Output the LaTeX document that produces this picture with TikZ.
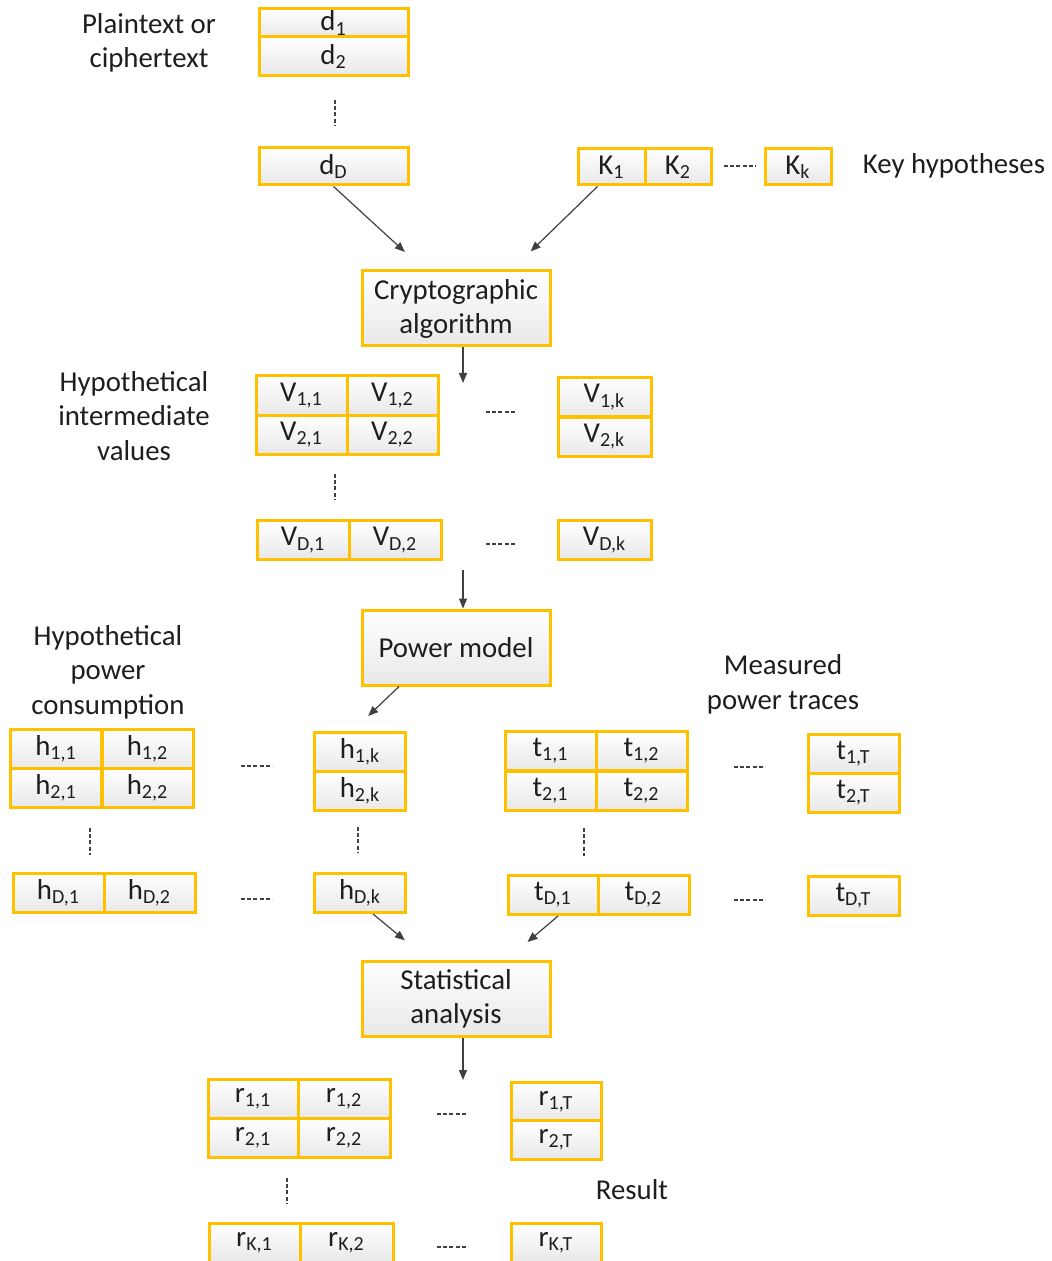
\documentclass[tikz,border=0pt]{standalone}
\usepackage{fontspec}
\setmainfont{Carlito}
\usetikzlibrary{arrows.meta,positioning,calc}
\definecolor{boxline}{RGB}{255,192,0}
\definecolor{ink}{RGB}{30,30,30}
\newcommand{\ix}[1]{\textsubscript{#1}}

\begin{document}
\begin{tikzpicture}[
    x=0.5pt, y=-0.5pt,
    cell/.style={draw=boxline, line width=1.5pt, top color=white, bottom color=black!9, minimum width=45.5pt, minimum height=19.5pt, inner sep=0pt, font=\fontsize{14.4}{17}\selectfont, text=ink},
    datacell/.style={cell, minimum width=74.5pt},
    keycell/.style={cell, minimum width=33pt, minimum height=18pt},
    proc/.style={cell, minimum width=94pt, minimum height=37.5pt, align=center},
    lbl/.style={font=\fontsize{14.4}{17.2}\selectfont, text=ink, align=center},
    conn/.style={-{Triangle[length=5pt,width=4pt]}, line width=0.6pt, draw=black!75},
    gap/.style={line width=0.65pt, draw=black!75, dash pattern=on 2pt off 1.1pt}
]
\useasboundingbox (0,0) rectangle (1051,1261);

% --- Inputs: data and key hypotheses ---
\node[datacell, minimum height=14pt] (d1) at (333.5,23) {d\ix{1}};
\node[datacell] (d2) at (333.5,56.5) {d\ix{2}};
\node[datacell, minimum height=18.5pt] (dD) at (333.5,166.5) {d\ix{D}};
\node[lbl] (plain) at (149,43) {Plaintext or\\ciphertext};

\node[keycell, minimum width=33.5pt] (k1) at (611.5,167) {K\ix{1}};
\node[keycell] (k2) at (678,167) {K\ix{2}};
\node[keycell] (kk) at (798,167) {K\ix{k}};
\node[lbl] (keyh) at (954,166) {Key hypotheses};

% --- Cryptographic algorithm ---
\node[proc] (crypto) at (456,308.5) {Cryptographic\\algorithm};
\coordinate (c1) at (463,383);

% --- Hypothetical intermediate values ---
\node[lbl] (hiv) at (134,416) {Hypothetical\\intermediate\\values};
\node[cell] (v11) at (301.5,395.5) {V\ix{1,1}};
\node[cell] (v12) at (392.5,395.5) {V\ix{1,2}};
\node[cell] (v21) at (301.5,434.5) {V\ix{2,1}};
\node[cell] (v22) at (392.5,434.5) {V\ix{2,2}};
\node[cell, minimum width=46.5pt] (v1k) at (604.5,397) {V\ix{1,k}};
\node[cell, minimum width=46.5pt] (v2k) at (604.5,436.5) {V\ix{2,k}};
\node[cell, minimum width=46pt] (vD1) at (303,540) {V\ix{D,1}};
\node[cell, minimum width=46pt] (vD2) at (395,540) {V\ix{D,2}};
\node[cell, minimum width=46.5pt] (vDk) at (604.5,540) {V\ix{D,k}};
\coordinate (c2) at (463,570);

% --- Power model ---
\node[proc] (power) at (456,647.5) {Power model};

% --- Hypothetical power consumption ---
\node[lbl] (hpc) at (108,672) {Hypothetical\\power\\consumption};
\node[cell] (h11) at (56,749) {h\ix{1,1}};
\node[cell] (h12) at (147.5,749) {h\ix{1,2}};
\node[cell] (h21) at (56,788) {h\ix{2,1}};
\node[cell] (h22) at (147.5,788) {h\ix{2,2}};
\node[cell] (h1k) at (360,751.5) {h\ix{1,k}};
\node[cell] (h2k) at (360,791) {h\ix{2,k}};
\node[cell] (hD1) at (58.5,893) {h\ix{D,1}};
\node[cell] (hD2) at (149.5,893) {h\ix{D,2}};
\node[cell] (hDk) at (360,893) {h\ix{D,k}};

% --- Measured power traces ---
\node[lbl] (mpt) at (783,684.5) {Measured\\power traces};
\node[cell] (t11) at (550.5,751) {t\ix{1,1}};
\node[cell] (t12) at (641.5,751) {t\ix{1,2}};
\node[cell] (t21) at (550.5,790.5) {t\ix{2,1}};
\node[cell] (t22) at (641.5,790.5) {t\ix{2,2}};
\node[cell] (t1T) at (853.5,753.5) {t\ix{1,T}};
\node[cell] (t2T) at (853.5,792.5) {t\ix{2,T}};
\node[cell, minimum width=45pt] (tD1) at (553,895) {t\ix{D,1}};
\node[cell] (tD2) at (643.5,895) {t\ix{D,2}};
\node[cell] (tDT) at (853.5,896) {t\ix{D,T}};

% --- Statistical analysis ---
\node[proc] (stat) at (456,998.5) {Statistical\\analysis};
\coordinate (c3) at (463,1080);

% --- Result ---
\node[lbl] (res) at (632,1190) {Result};
\node[cell, minimum width=45pt] (r11) at (253,1099) {r\ix{1,1}};
\node[cell, minimum width=46pt] (r12) at (344,1099) {r\ix{1,2}};
\node[cell, minimum width=45pt] (r21) at (253,1138) {r\ix{2,1}};
\node[cell, minimum width=46pt] (r22) at (344,1138) {r\ix{2,2}};
\node[cell, minimum width=45pt] (r1T) at (556,1101.5) {r\ix{1,T}};
\node[cell, minimum width=45pt] (r2T) at (556,1140) {r\ix{2,T}};
\node[cell] (rK1) at (254.5,1242.5) {r\ix{K,1}};
\node[cell, minimum width=46.5pt] (rK2) at (346.5,1242.5) {r\ix{K,2}};
\node[cell, minimum width=45pt] (rKT) at (556,1243) {r\ix{K,T}};

% === arrows ===
\draw[conn, shorten >=13pt] (dD.south) -- ([xshift=-16pt]crypto.north);
\draw[conn, shorten >=13pt] ([xshift=-7pt]k1.south) -- ([xshift=28pt]crypto.north);
\draw[conn] ([xshift=3.5pt]crypto.south) -- (c1);
\draw[conn] (c2) -- ([xshift=3.5pt]power.north);
\draw[conn, shorten >=10.5pt] ([xshift=-28.5pt]power.south) -- ([xshift=-3.5pt]h1k.north);
\draw[conn, shorten >=15pt] ([xshift=6.5pt]hDk.south) -- ([xshift=-14pt]stat.north);
\draw[conn, shorten >=13.5pt] ([xshift=2.5pt]tD1.south) -- ([xshift=25.5pt]stat.north);
\draw[conn] ([xshift=3.5pt]stat.south) -- (c3);

% === ellipsis marks ===
\draw[gap] (724,166) -- (756,166);
\draw[gap] (486,412) -- (516,412);
\draw[gap] (486,544) -- (516,544);
\draw[gap] (241,766) -- (272,766);
\draw[gap] (734,767) -- (765,767);
\draw[gap] (241,899) -- (272,899);
\draw[gap] (734,900) -- (765,900);
\draw[gap] (437,1114) -- (468,1114);
\draw[gap] (437,1247) -- (468,1247);
\draw[gap] (335,100) -- (335,126);
\draw[gap] (335,474) -- (335,500);
\draw[gap] (90,828) -- (90,855);
\draw[gap] (358,827) -- (358,852);
\draw[gap] (584,828) -- (584,856);
\draw[gap] (287,1178) -- (287,1203);
\end{tikzpicture}
\end{document}
